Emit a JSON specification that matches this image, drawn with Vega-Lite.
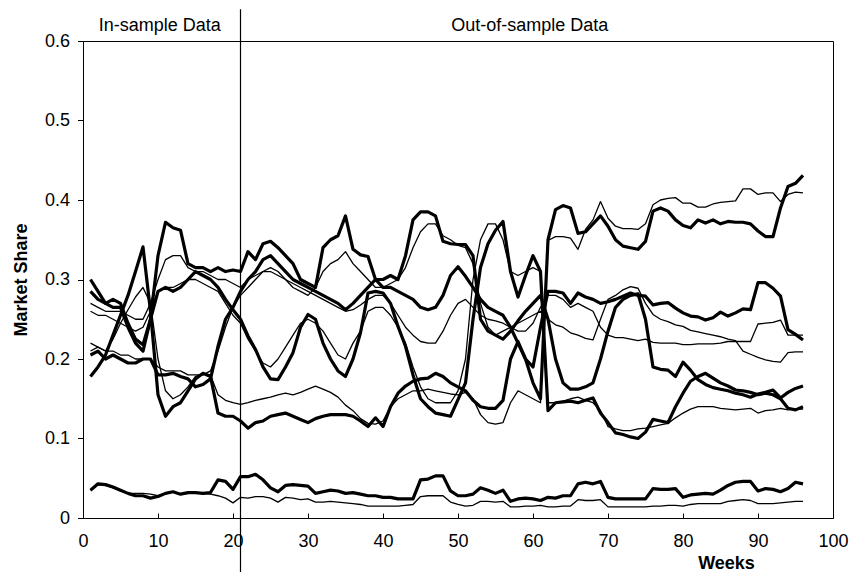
{
"$schema":"https://vega.github.io/schema/vega-lite/v6.json",
"width":750,"height":477,
"autosize":"none",
"padding":{"left":83,"top":41,"right":18,"bottom":54},
"background":"white",
"config":{"view":{"stroke":"black","strokeWidth":1},"font":"Liberation Sans","text":{"font":"Liberation Sans"},
"axis":{"grid":false,"labelFontSize":18,"labelColor":"black","labelOverlap":false,"domainColor":"black","tickColor":"black","titleFontSize":18,"titleFontWeight":"bold","titleColor":"black","titleAlign":"center","titleBaseline":"alphabetic"},
"axisX":{"tickSize":-5,"labelPadding":28,"labelBaseline":"middle","labelFlush":false,"titleX":643,"titleY":50.5,"titleAngle":0},
"axisY":{"tickSize":5.5,"labelPadding":8,"titleX":-56.6,"titleY":238.5,"titleAngle":-90}},
"datasets":{"weekly":[
{"w":1,"A1":0.178,"A2":0.205,"A3":0.3,"A4":0.285,"A5":0.035,"P1":0.21,"P2":0.22,"P3":0.27,"P4":0.26,"P5":0.035},
{"w":2,"A1":0.19,"A2":0.21,"A3":0.285,"A4":0.275,"A5":0.043,"P1":0.215,"P2":0.215,"P3":0.265,"P4":0.255,"P5":0.042},
{"w":3,"A1":0.205,"A2":0.2,"A3":0.27,"A4":0.27,"A5":0.042,"P1":0.21,"P2":0.21,"P3":0.26,"P4":0.255,"P5":0.041},
{"w":4,"A1":0.23,"A2":0.205,"A3":0.275,"A4":0.265,"A5":0.039,"P1":0.225,"P2":0.21,"P3":0.26,"P4":0.25,"P5":0.038},
{"w":5,"A1":0.255,"A2":0.2,"A3":0.27,"A4":0.265,"A5":0.035,"P1":0.245,"P2":0.205,"P3":0.26,"P4":0.245,"P5":0.034},
{"w":6,"A1":0.28,"A2":0.195,"A3":0.245,"A4":0.24,"A5":0.031,"P1":0.262,"P2":0.205,"P3":0.255,"P4":0.24,"P5":0.031},
{"w":7,"A1":0.31,"A2":0.195,"A3":0.225,"A4":0.22,"A5":0.028,"P1":0.278,"P2":0.2,"P3":0.25,"P4":0.235,"P5":0.031},
{"w":8,"A1":0.341,"A2":0.2,"A3":0.218,"A4":0.21,"A5":0.028,"P1":0.29,"P2":0.2,"P3":0.25,"P4":0.24,"P5":0.031},
{"w":9,"A1":0.26,"A2":0.2,"A3":0.25,"A4":0.25,"A5":0.025,"P1":0.27,"P2":0.2,"P3":0.27,"P4":0.26,"P5":0.03},
{"w":10,"A1":0.155,"A2":0.18,"A3":0.33,"A4":0.285,"A5":0.027,"P1":0.2,"P2":0.19,"P3":0.3,"P4":0.285,"P5":0.028},
{"w":11,"A1":0.128,"A2":0.18,"A3":0.372,"A4":0.29,"A5":0.031,"P1":0.16,"P2":0.185,"P3":0.325,"P4":0.29,"P5":0.031},
{"w":12,"A1":0.14,"A2":0.182,"A3":0.365,"A4":0.285,"A5":0.033,"P1":0.15,"P2":0.185,"P3":0.33,"P4":0.29,"P5":0.033},
{"w":13,"A1":0.145,"A2":0.178,"A3":0.362,"A4":0.29,"A5":0.03,"P1":0.155,"P2":0.185,"P3":0.33,"P4":0.295,"P5":0.03},
{"w":14,"A1":0.16,"A2":0.175,"A3":0.32,"A4":0.3,"A5":0.032,"P1":0.165,"P2":0.18,"P3":0.315,"P4":0.3,"P5":0.031},
{"w":15,"A1":0.175,"A2":0.165,"A3":0.315,"A4":0.31,"A5":0.032,"P1":0.178,"P2":0.18,"P3":0.31,"P4":0.3,"P5":0.031},
{"w":16,"A1":0.182,"A2":0.168,"A3":0.315,"A4":0.305,"A5":0.031,"P1":0.182,"P2":0.18,"P3":0.31,"P4":0.295,"P5":0.031},
{"w":17,"A1":0.178,"A2":0.175,"A3":0.31,"A4":0.3,"A5":0.032,"P1":0.18,"P2":0.185,"P3":0.305,"P4":0.29,"P5":0.03},
{"w":18,"A1":0.132,"A2":0.216,"A3":0.315,"A4":0.29,"A5":0.048,"P1":0.155,"P2":0.21,"P3":0.3,"P4":0.285,"P5":0.028},
{"w":19,"A1":0.128,"A2":0.25,"A3":0.31,"A4":0.275,"A5":0.046,"P1":0.148,"P2":0.24,"P3":0.3,"P4":0.27,"P5":0.025},
{"w":20,"A1":0.128,"A2":0.265,"A3":0.312,"A4":0.262,"A5":0.036,"P1":0.145,"P2":0.265,"P3":0.295,"P4":0.255,"P5":0.019},
{"w":21,"A1":0.122,"A2":0.285,"A3":0.31,"A4":0.25,"A5":0.052,"P1":0.143,"P2":0.28,"P3":0.29,"P4":0.245,"P5":0.026},
{"w":22,"A1":0.113,"A2":0.3,"A3":0.335,"A4":0.229,"A5":0.052,"P1":0.145,"P2":0.29,"P3":0.3,"P4":0.225,"P5":0.025},
{"w":23,"A1":0.12,"A2":0.31,"A3":0.325,"A4":0.212,"A5":0.055,"P1":0.148,"P2":0.3,"P3":0.305,"P4":0.21,"P5":0.027},
{"w":24,"A1":0.122,"A2":0.325,"A3":0.345,"A4":0.19,"A5":0.048,"P1":0.15,"P2":0.31,"P3":0.31,"P4":0.195,"P5":0.027},
{"w":25,"A1":0.128,"A2":0.33,"A3":0.348,"A4":0.175,"A5":0.038,"P1":0.152,"P2":0.31,"P3":0.315,"P4":0.19,"P5":0.025},
{"w":26,"A1":0.13,"A2":0.32,"A3":0.34,"A4":0.174,"A5":0.033,"P1":0.155,"P2":0.305,"P3":0.31,"P4":0.2,"P5":0.02},
{"w":27,"A1":0.132,"A2":0.31,"A3":0.33,"A4":0.19,"A5":0.041,"P1":0.157,"P2":0.3,"P3":0.3,"P4":0.215,"P5":0.026},
{"w":28,"A1":0.128,"A2":0.3,"A3":0.32,"A4":0.208,"A5":0.042,"P1":0.155,"P2":0.295,"P3":0.29,"P4":0.23,"P5":0.025},
{"w":29,"A1":0.124,"A2":0.295,"A3":0.3,"A4":0.24,"A5":0.041,"P1":0.158,"P2":0.29,"P3":0.285,"P4":0.245,"P5":0.023},
{"w":30,"A1":0.12,"A2":0.29,"A3":0.295,"A4":0.256,"A5":0.04,"P1":0.162,"P2":0.285,"P3":0.28,"P4":0.25,"P5":0.024},
{"w":31,"A1":0.125,"A2":0.285,"A3":0.29,"A4":0.25,"A5":0.031,"P1":0.166,"P2":0.28,"P3":0.29,"P4":0.245,"P5":0.02},
{"w":32,"A1":0.128,"A2":0.28,"A3":0.34,"A4":0.22,"A5":0.033,"P1":0.162,"P2":0.275,"P3":0.31,"P4":0.235,"P5":0.02},
{"w":33,"A1":0.13,"A2":0.275,"A3":0.35,"A4":0.2,"A5":0.035,"P1":0.158,"P2":0.27,"P3":0.32,"P4":0.22,"P5":0.021},
{"w":34,"A1":0.13,"A2":0.27,"A3":0.355,"A4":0.185,"A5":0.034,"P1":0.152,"P2":0.265,"P3":0.325,"P4":0.205,"P5":0.02},
{"w":35,"A1":0.13,"A2":0.262,"A3":0.38,"A4":0.178,"A5":0.031,"P1":0.142,"P2":0.26,"P3":0.335,"P4":0.2,"P5":0.019},
{"w":36,"A1":0.128,"A2":0.27,"A3":0.338,"A4":0.2,"A5":0.032,"P1":0.135,"P2":0.262,"P3":0.32,"P4":0.22,"P5":0.018},
{"w":37,"A1":0.122,"A2":0.28,"A3":0.331,"A4":0.233,"A5":0.03,"P1":0.125,"P2":0.268,"P3":0.31,"P4":0.235,"P5":0.017},
{"w":38,"A1":0.115,"A2":0.29,"A3":0.329,"A4":0.283,"A5":0.028,"P1":0.119,"P2":0.275,"P3":0.3,"P4":0.26,"P5":0.015},
{"w":39,"A1":0.126,"A2":0.3,"A3":0.3,"A4":0.285,"A5":0.028,"P1":0.118,"P2":0.28,"P3":0.29,"P4":0.265,"P5":0.015},
{"w":40,"A1":0.115,"A2":0.29,"A3":0.3,"A4":0.283,"A5":0.026,"P1":0.122,"P2":0.28,"P3":0.29,"P4":0.265,"P5":0.015},
{"w":41,"A1":0.14,"A2":0.29,"A3":0.305,"A4":0.27,"A5":0.026,"P1":0.14,"P2":0.27,"P3":0.295,"P4":0.255,"P5":0.015},
{"w":42,"A1":0.157,"A2":0.285,"A3":0.3,"A4":0.241,"A5":0.024,"P1":0.15,"P2":0.255,"P3":0.3,"P4":0.24,"P5":0.015},
{"w":43,"A1":0.166,"A2":0.28,"A3":0.33,"A4":0.216,"A5":0.024,"P1":0.155,"P2":0.24,"P3":0.315,"P4":0.22,"P5":0.016},
{"w":44,"A1":0.172,"A2":0.275,"A3":0.375,"A4":0.18,"A5":0.024,"P1":0.16,"P2":0.23,"P3":0.34,"P4":0.19,"P5":0.017},
{"w":45,"A1":0.175,"A2":0.265,"A3":0.385,"A4":0.15,"A5":0.048,"P1":0.16,"P2":0.222,"P3":0.36,"P4":0.165,"P5":0.027},
{"w":46,"A1":0.176,"A2":0.262,"A3":0.385,"A4":0.14,"A5":0.049,"P1":0.162,"P2":0.22,"P3":0.37,"P4":0.15,"P5":0.028},
{"w":47,"A1":0.182,"A2":0.265,"A3":0.38,"A4":0.132,"A5":0.053,"P1":0.16,"P2":0.22,"P3":0.37,"P4":0.145,"P5":0.028},
{"w":48,"A1":0.178,"A2":0.28,"A3":0.348,"A4":0.13,"A5":0.053,"P1":0.158,"P2":0.235,"P3":0.355,"P4":0.145,"P5":0.028},
{"w":49,"A1":0.17,"A2":0.305,"A3":0.345,"A4":0.128,"A5":0.034,"P1":0.156,"P2":0.255,"P3":0.35,"P4":0.145,"P5":0.02},
{"w":50,"A1":0.165,"A2":0.316,"A3":0.344,"A4":0.149,"A5":0.028,"P1":0.155,"P2":0.27,"P3":0.343,"P4":0.16,"P5":0.017},
{"w":51,"A1":0.16,"A2":0.304,"A3":0.344,"A4":0.17,"A5":0.028,"P1":0.158,"P2":0.275,"P3":0.34,"P4":0.2,"P5":0.015},
{"w":52,"A1":0.148,"A2":0.29,"A3":0.33,"A4":0.25,"A5":0.03,"P1":0.15,"P2":0.265,"P3":0.32,"P4":0.3,"P5":0.016},
{"w":53,"A1":0.14,"A2":0.275,"A3":0.25,"A4":0.315,"A5":0.038,"P1":0.13,"P2":0.255,"P3":0.27,"P4":0.35,"P5":0.021},
{"w":54,"A1":0.138,"A2":0.265,"A3":0.235,"A4":0.345,"A5":0.035,"P1":0.12,"P2":0.25,"P3":0.24,"P4":0.37,"P5":0.021},
{"w":55,"A1":0.138,"A2":0.26,"A3":0.23,"A4":0.362,"A5":0.031,"P1":0.118,"P2":0.248,"P3":0.23,"P4":0.37,"P5":0.02},
{"w":56,"A1":0.148,"A2":0.255,"A3":0.225,"A4":0.373,"A5":0.035,"P1":0.12,"P2":0.245,"P3":0.235,"P4":0.35,"P5":0.021},
{"w":57,"A1":0.2,"A2":0.24,"A3":0.235,"A4":0.31,"A5":0.021,"P1":0.145,"P2":0.24,"P3":0.24,"P4":0.31,"P5":0.014},
{"w":58,"A1":0.222,"A2":0.22,"A3":0.248,"A4":0.278,"A5":0.024,"P1":0.16,"P2":0.235,"P3":0.245,"P4":0.305,"P5":0.014},
{"w":59,"A1":0.2,"A2":0.2,"A3":0.26,"A4":0.305,"A5":0.025,"P1":0.155,"P2":0.235,"P3":0.25,"P4":0.31,"P5":0.015},
{"w":60,"A1":0.17,"A2":0.19,"A3":0.27,"A4":0.33,"A5":0.024,"P1":0.15,"P2":0.245,"P3":0.255,"P4":0.315,"P5":0.015},
{"w":61,"A1":0.15,"A2":0.24,"A3":0.28,"A4":0.31,"A5":0.022,"P1":0.145,"P2":0.265,"P3":0.26,"P4":0.31,"P5":0.016},
{"w":62,"A1":0.35,"A2":0.285,"A3":0.25,"A4":0.135,"A5":0.026,"P1":0.349,"P2":0.28,"P3":0.25,"P4":0.145,"P5":0.014},
{"w":63,"A1":0.388,"A2":0.285,"A3":0.2,"A4":0.145,"A5":0.025,"P1":0.354,"P2":0.28,"P3":0.243,"P4":0.145,"P5":0.014},
{"w":64,"A1":0.393,"A2":0.283,"A3":0.17,"A4":0.146,"A5":0.028,"P1":0.354,"P2":0.275,"P3":0.24,"P4":0.147,"P5":0.015},
{"w":65,"A1":0.39,"A2":0.27,"A3":0.162,"A4":0.147,"A5":0.028,"P1":0.352,"P2":0.265,"P3":0.233,"P4":0.15,"P5":0.015},
{"w":66,"A1":0.358,"A2":0.283,"A3":0.162,"A4":0.145,"A5":0.043,"P1":0.338,"P2":0.27,"P3":0.23,"P4":0.152,"P5":0.023},
{"w":67,"A1":0.36,"A2":0.278,"A3":0.165,"A4":0.148,"A5":0.045,"P1":0.363,"P2":0.265,"P3":0.226,"P4":0.148,"P5":0.022},
{"w":68,"A1":0.37,"A2":0.275,"A3":0.17,"A4":0.151,"A5":0.043,"P1":0.375,"P2":0.26,"P3":0.224,"P4":0.145,"P5":0.022},
{"w":69,"A1":0.38,"A2":0.27,"A3":0.2,"A4":0.132,"A5":0.046,"P1":0.398,"P2":0.24,"P3":0.25,"P4":0.135,"P5":0.023},
{"w":70,"A1":0.367,"A2":0.272,"A3":0.235,"A4":0.12,"A5":0.026,"P1":0.377,"P2":0.23,"P3":0.275,"P4":0.115,"P5":0.014},
{"w":71,"A1":0.35,"A2":0.275,"A3":0.265,"A4":0.107,"A5":0.024,"P1":0.367,"P2":0.227,"P3":0.28,"P4":0.112,"P5":0.014},
{"w":72,"A1":0.342,"A2":0.279,"A3":0.275,"A4":0.105,"A5":0.024,"P1":0.364,"P2":0.227,"P3":0.287,"P4":0.11,"P5":0.014},
{"w":73,"A1":0.34,"A2":0.283,"A3":0.28,"A4":0.102,"A5":0.024,"P1":0.364,"P2":0.225,"P3":0.291,"P4":0.11,"P5":0.014},
{"w":74,"A1":0.338,"A2":0.28,"A3":0.282,"A4":0.1,"A5":0.024,"P1":0.363,"P2":0.223,"P3":0.289,"P4":0.112,"P5":0.014},
{"w":75,"A1":0.348,"A2":0.279,"A3":0.25,"A4":0.108,"A5":0.024,"P1":0.37,"P2":0.225,"P3":0.27,"P4":0.113,"P5":0.014},
{"w":76,"A1":0.386,"A2":0.268,"A3":0.19,"A4":0.124,"A5":0.037,"P1":0.394,"P2":0.221,"P3":0.256,"P4":0.115,"P5":0.015},
{"w":77,"A1":0.39,"A2":0.27,"A3":0.187,"A4":0.122,"A5":0.036,"P1":0.4,"P2":0.22,"P3":0.25,"P4":0.117,"P5":0.015},
{"w":78,"A1":0.386,"A2":0.271,"A3":0.186,"A4":0.12,"A5":0.036,"P1":0.402,"P2":0.22,"P3":0.247,"P4":0.119,"P5":0.016},
{"w":79,"A1":0.375,"A2":0.264,"A3":0.178,"A4":0.14,"A5":0.037,"P1":0.403,"P2":0.22,"P3":0.243,"P4":0.126,"P5":0.016},
{"w":80,"A1":0.368,"A2":0.258,"A3":0.196,"A4":0.157,"A5":0.026,"P1":0.396,"P2":0.218,"P3":0.241,"P4":0.132,"P5":0.015},
{"w":81,"A1":0.365,"A2":0.254,"A3":0.186,"A4":0.172,"A5":0.029,"P1":0.396,"P2":0.218,"P3":0.236,"P4":0.137,"P5":0.017},
{"w":82,"A1":0.375,"A2":0.253,"A3":0.174,"A4":0.178,"A5":0.03,"P1":0.391,"P2":0.219,"P3":0.234,"P4":0.14,"P5":0.018},
{"w":83,"A1":0.371,"A2":0.249,"A3":0.168,"A4":0.182,"A5":0.031,"P1":0.391,"P2":0.219,"P3":0.232,"P4":0.14,"P5":0.018},
{"w":84,"A1":0.375,"A2":0.252,"A3":0.164,"A4":0.176,"A5":0.03,"P1":0.395,"P2":0.219,"P3":0.23,"P4":0.14,"P5":0.018},
{"w":85,"A1":0.37,"A2":0.259,"A3":0.162,"A4":0.17,"A5":0.035,"P1":0.397,"P2":0.22,"P3":0.228,"P4":0.138,"P5":0.018},
{"w":86,"A1":0.373,"A2":0.254,"A3":0.16,"A4":0.166,"A5":0.041,"P1":0.398,"P2":0.222,"P3":0.225,"P4":0.137,"P5":0.021},
{"w":87,"A1":0.372,"A2":0.258,"A3":0.157,"A4":0.161,"A5":0.045,"P1":0.399,"P2":0.222,"P3":0.223,"P4":0.136,"P5":0.022},
{"w":88,"A1":0.372,"A2":0.263,"A3":0.155,"A4":0.16,"A5":0.046,"P1":0.414,"P2":0.222,"P3":0.21,"P4":0.137,"P5":0.023},
{"w":89,"A1":0.37,"A2":0.262,"A3":0.152,"A4":0.158,"A5":0.046,"P1":0.414,"P2":0.222,"P3":0.206,"P4":0.138,"P5":0.022},
{"w":90,"A1":0.361,"A2":0.296,"A3":0.156,"A4":0.155,"A5":0.034,"P1":0.407,"P2":0.244,"P3":0.202,"P4":0.132,"P5":0.018},
{"w":91,"A1":0.354,"A2":0.296,"A3":0.158,"A4":0.157,"A5":0.037,"P1":0.409,"P2":0.245,"P3":0.199,"P4":0.135,"P5":0.018},
{"w":92,"A1":0.354,"A2":0.289,"A3":0.161,"A4":0.155,"A5":0.036,"P1":0.409,"P2":0.246,"P3":0.197,"P4":0.136,"P5":0.018},
{"w":93,"A1":0.39,"A2":0.279,"A3":0.151,"A4":0.15,"A5":0.033,"P1":0.398,"P2":0.249,"P3":0.196,"P4":0.138,"P5":0.019},
{"w":94,"A1":0.417,"A2":0.237,"A3":0.158,"A4":0.138,"A5":0.037,"P1":0.407,"P2":0.23,"P3":0.208,"P4":0.136,"P5":0.02},
{"w":95,"A1":0.421,"A2":0.231,"A3":0.163,"A4":0.136,"A5":0.045,"P1":0.41,"P2":0.23,"P3":0.209,"P4":0.137,"P5":0.021},
{"w":96,"A1":0.431,"A2":0.224,"A3":0.166,"A4":0.14,"A5":0.043,"P1":0.409,"P2":0.23,"P3":0.209,"P4":0.137,"P5":0.021}
]},
"layer":[
{"data":{"name":"weekly"},
"transform":[{"fold":["P1","P2","P3","P4","P5"],"as":["series","share"]}],
"mark":{"type":"line","color":"black","strokeWidth":1.3,"strokeJoin":"round"},
"encoding":{
"x":{"field":"w","type":"quantitative","scale":{"domain":[0,100],"nice":false,"zero":false},"axis":{"title":"Weeks","values":[0,10,20,30,40,50,60,70,80,90,100]}},
"y":{"field":"share","type":"quantitative","scale":{"domain":[0,0.6],"nice":false,"zero":false},"axis":{"title":"Market Share","values":[0,0.1,0.2,0.3,0.4,0.5,0.6],"format":".1~f"}},
"detail":{"field":"series","type":"nominal"}}},
{"data":{"name":"weekly"},
"transform":[{"fold":["A1","A2","A3","A4","A5"],"as":["series","share"]}],
"mark":{"type":"line","color":"black","strokeWidth":3.2,"strokeJoin":"round"},
"encoding":{
"x":{"field":"w","type":"quantitative","scale":{"domain":[0,100],"nice":false,"zero":false},"axis":{"title":"Weeks","values":[0,10,20,30,40,50,60,70,80,90,100]}},
"y":{"field":"share","type":"quantitative","scale":{"domain":[0,0.6],"nice":false,"zero":false},"axis":{"title":"Market Share","values":[0,0.1,0.2,0.3,0.4,0.5,0.6],"format":".1~f"}},
"detail":{"field":"series","type":"nominal"}}},
{"data":{"values":[{"w":21,"share":-0.068,"share2":0.64}]},
"mark":{"type":"rule","color":"black","strokeWidth":1.2,"clip":false},
"encoding":{"x":{"field":"w","type":"quantitative","axis":{"title":"Weeks","values":[0,10,20,30,40,50,60,70,80,90,100]}},"y":{"field":"share","type":"quantitative","axis":{"title":"Market Share","values":[0,0.1,0.2,0.3,0.4,0.5,0.6],"format":".1~f"}},"y2":{"field":"share2"}}},
{"data":{"values":[{"label":"In-sample Data","w":10.23,"share":0.619},{"label":"Out-of-sample Data","w":59.56,"share":0.619}]},
"mark":{"type":"text","fontSize":18,"baseline":"middle","align":"center","color":"black","font":"Liberation Sans","clip":false},
"encoding":{"x":{"field":"w","type":"quantitative","axis":{"title":"Weeks","values":[0,10,20,30,40,50,60,70,80,90,100]}},"y":{"field":"share","type":"quantitative","axis":{"title":"Market Share","values":[0,0.1,0.2,0.3,0.4,0.5,0.6],"format":".1~f"}},"text":{"field":"label"}}}
]
}
